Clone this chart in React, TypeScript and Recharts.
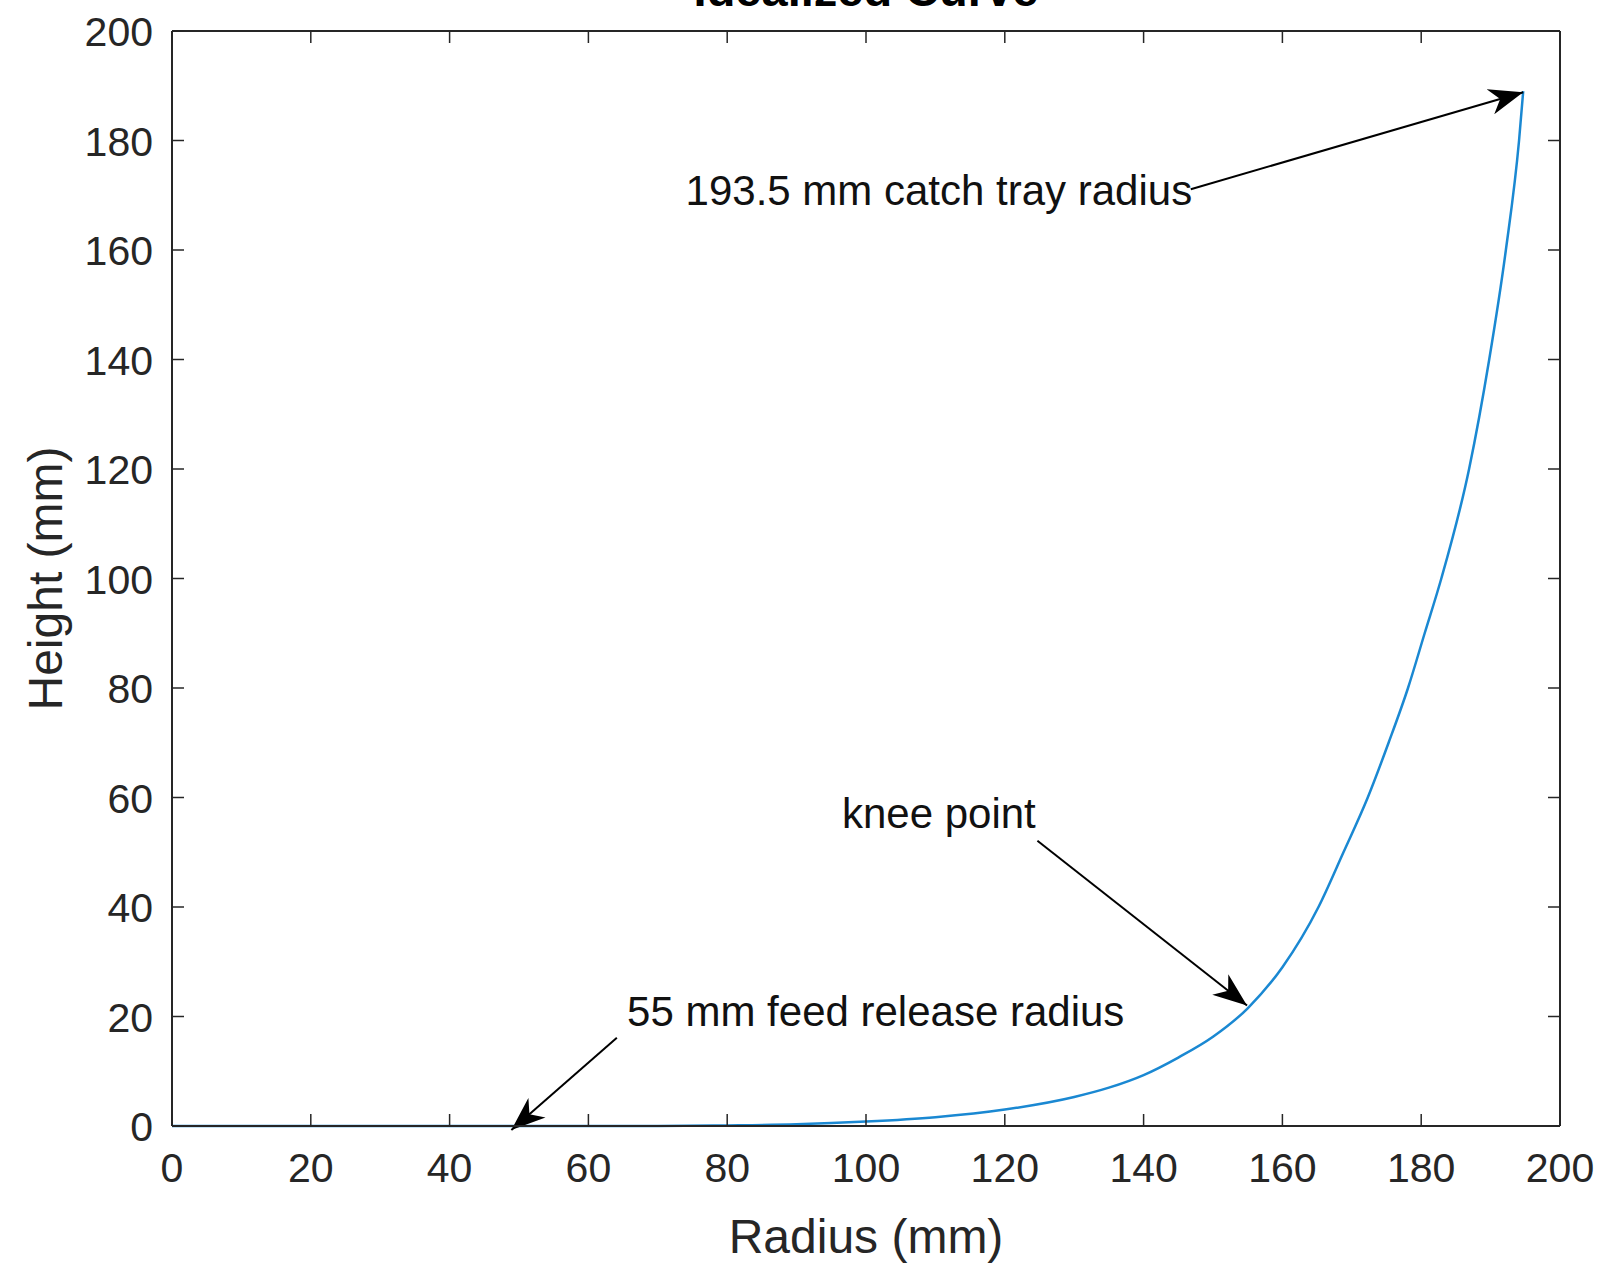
import {
  LineChart,
  Line,
  XAxis,
  YAxis,
  ReferenceLine,
  ReferenceDot,
  Customized,
} from 'recharts';

const FONT = '"Liberation Sans", Arial, Helvetica, sans-serif';
const INK = '#262626';
const TICK_LEN = 12;

// radius (mm) vs height (mm)
const radius = [0, 20, 40, 60, 70, 80, 90, 100, 110, 120, 130, 135, 140, 145, 150, 155, 160, 165.2, 168.8, 172.3, 175.3, 178.1, 180.5, 182.9, 186.9, 189.8, 192.2, 194.1, 194.7];
const height = [0, 0, 0, 0, 0, 0.1, 0.3, 0.8, 1.6, 3, 5.3, 7, 9.3, 12.5, 16.3, 21.5, 29, 40, 50, 60, 70, 80, 90, 100, 120, 140, 160, 180, 189];

const axisTicks = [0, 20, 40, 60, 80, 100, 120, 140, 160, 180, 200];

// annotations: text anchor (centre, baseline) and arrow from -> to, in data units
const noteText = ['193.5 mm catch tray radius', 'knee point', '55 mm feed release radius'];
const noteAt = [
  { x: 110.5, y: 168.2 },
  { x: 110.5, y: 54.4 },
  { x: 101.4, y: 18.3 },
];
const arrowFrom = [
  { x: 146.8, y: 171.1 },
  { x: 124.7, y: 52.1 },
  { x: 64.1, y: 16.1 },
];
const arrowTo = [
  { x: 194.7, y: 188.8 },
  { x: 154.9, y: 22.0 },
  { x: 48.9, y: -0.75 },
];

const data = radius.map((r, i) => ({ r, h: height[i] }));

const arrowShape = (p: any) => (
  <line x1={p.x1} y1={p.y1} x2={p.x2} y2={p.y2} stroke="#000" strokeWidth={2} markerEnd="url(#arrowHead)" />
);

const noteLabel = (text: string) => (p: any) => {
  const vb = p.viewBox || {};
  return (
    <text x={vb.x} y={vb.y} textAnchor="middle" fontSize={42} fontFamily={FONT} fill="#111">
      {text}
    </text>
  );
};

const Title = () => (
  <text x={866} y={6} textAnchor="middle" fontSize={47} fontWeight="bold" fontFamily={FONT} fill="#000">
    Idealized Curve
  </text>
);

// MATLAB-style inward ticks
const bottomTick = (p: any) => (
  <g>
    <line x1={p.x} x2={p.x} y1={p.y} y2={p.y - TICK_LEN} stroke={INK} strokeWidth={1.5} />
    <text x={p.x} y={p.y + 56} textAnchor="middle" fontSize={41} fontFamily={FONT} fill={INK}>
      {p.payload.value}
    </text>
  </g>
);

const leftTick = (p: any) => (
  <g>
    <line x1={p.x} x2={p.x + TICK_LEN} y1={p.y} y2={p.y} stroke={INK} strokeWidth={1.5} />
    <text x={p.x - 19} y={p.y + 15} textAnchor="end" fontSize={41} fontFamily={FONT} fill={INK}>
      {p.payload.value}
    </text>
  </g>
);

const topTick = (p: any) => (
  <line x1={p.x} x2={p.x} y1={p.y} y2={p.y + TICK_LEN} stroke={INK} strokeWidth={1.5} />
);

const rightTick = (p: any) => (
  <line x1={p.x} x2={p.x - TICK_LEN} y1={p.y} y2={p.y} stroke={INK} strokeWidth={1.5} />
);

export default function App() {
  return (
    <div style={{ position: 'absolute', left: 0, top: 0, background: '#fff' }}>
      <LineChart
        width={1603}
        height={1267}
        data={data}
        margin={{ top: 30, right: 42, bottom: 0, left: 0 }}
      >
        <defs>
          <marker
            id="arrowHead"
            viewBox="0 0 34 26"
            refX={34}
            refY={13}
            markerWidth={34}
            markerHeight={26}
            markerUnits="userSpaceOnUse"
            orient="auto"
          >
            <path d="M0,0 L34,13 L0,26 L10,13 Z" fill="#000" />
          </marker>
        </defs>
        <Customized component={Title} />
        <XAxis
          dataKey="r"
          type="number"
          domain={[0, 200]}
          ticks={axisTicks}
          height={141}
          stroke={INK}
          strokeWidth={2}
          tickLine={false}
          tickSize={0}
          tickMargin={0}
          tick={bottomTick}
          label={{
            content: (p: any) => (
              <text
                x={p.viewBox.x + p.viewBox.width / 2}
                y={p.viewBox.y + 127}
                textAnchor="middle"
                fontSize={48}
                fontFamily={FONT}
                fill={INK}
              >
                Radius (mm)
              </text>
            ),
          }}
        />
        <XAxis
          xAxisId="top"
          orientation="top"
          type="number"
          dataKey="r"
          domain={[0, 200]}
          ticks={axisTicks}
          height={1}
          stroke={INK}
          strokeWidth={2}
          tickLine={false}
          tickSize={0}
          tickMargin={0}
          tick={topTick}
        />
        <YAxis
          type="number"
          domain={[0, 200]}
          ticks={axisTicks}
          width={172}
          stroke={INK}
          strokeWidth={2}
          tickLine={false}
          tickSize={0}
          tickMargin={0}
          tick={leftTick}
          label={{
            content: (p: any) => {
              const cx = 62;
              const cy = p.viewBox.y + p.viewBox.height / 2;
              return (
                <text
                  x={cx}
                  y={cy}
                  transform={`rotate(-90, ${cx}, ${cy})`}
                  textAnchor="middle"
                  fontSize={48}
                  fontFamily={FONT}
                  fill={INK}
                >
                  Height (mm)
                </text>
              );
            },
          }}
        />
        <YAxis
          yAxisId="right"
          orientation="right"
          type="number"
          domain={[0, 200]}
          ticks={axisTicks}
          width={1}
          stroke={INK}
          strokeWidth={2}
          tickLine={false}
          tickSize={0}
          tickMargin={0}
          tick={rightTick}
        />
        {/* invisible copy bound to the top/right axes so the box axes get drawn */}
        <Line
          xAxisId="top"
          yAxisId="right"
          type="monotone"
          dataKey="h"
          stroke="none"
          dot={false}
          activeDot={false}
          legendType="none"
          isAnimationActive={false}
        />
        <Line
          type="monotone"
          dataKey="h"
          stroke="#1a88d2"
          strokeWidth={2.5}
          dot={false}
          isAnimationActive={false}
        />
        {arrowFrom.map((f, i) => (
          <ReferenceLine
            key={`arrow-${i}`}
            segment={[f, arrowTo[i]]}
            ifOverflow="visible"
            shape={arrowShape}
          />
        ))}
        {noteAt.map((n, i) => (
          <ReferenceDot
            key={`note-${i}`}
            x={n.x}
            y={n.y}
            r={0}
            fill="none"
            stroke="none"
            ifOverflow="visible"
            label={{ content: noteLabel(noteText[i]) }}
          />
        ))}
      </LineChart>
    </div>
  );
}
